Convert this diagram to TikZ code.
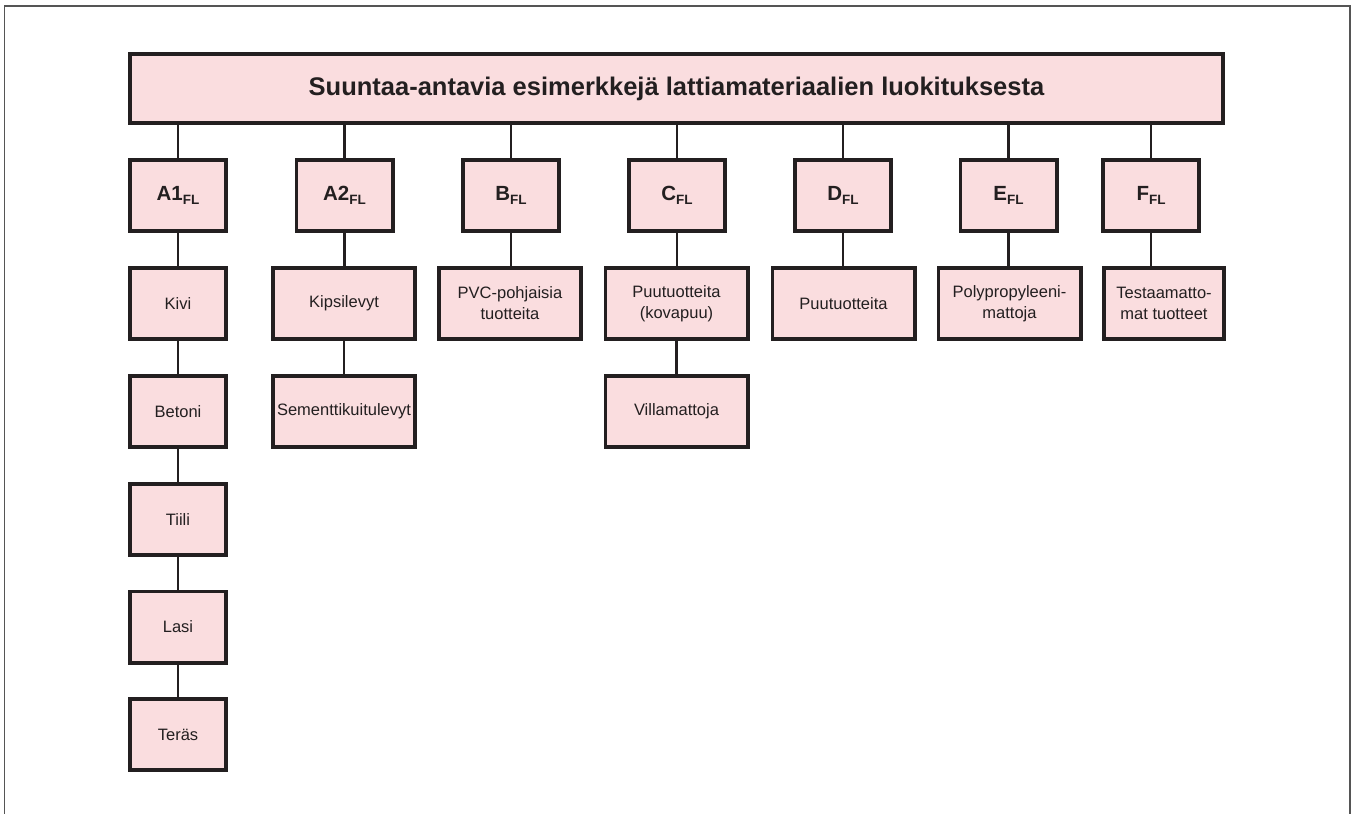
\documentclass[tikz,border=0pt]{standalone}
\usepackage{fontspec}
\setmainfont{Liberation Sans}
\definecolor{boxfill}{RGB}{250,221,223}
\definecolor{ink}{RGB}{35,31,32}
\definecolor{framegray}{RGB}{85,85,85}
\begin{document}
\begin{tikzpicture}[x=1pt,y=-1pt,
  titlebox/.style={draw=ink,fill=boxfill,line width=3.7pt,minimum width=1093.3pt,minimum height=69.3pt,inner sep=0pt,text=ink,font=\fontsize{25.5}{30}\selectfont\bfseries},
  classbox/.style={draw=ink,fill=boxfill,line width=3.7pt,minimum width=96.3pt,minimum height=71.3pt,inner sep=0pt,text=ink,font=\fontsize{20.5}{24}\selectfont\bfseries},
  itembox/.style={draw=ink,fill=boxfill,line width=3.7pt,minimum width=#1,minimum height=71.3pt,inner sep=0pt,align=center,text=ink,font=\fontsize{16.5}{21}\selectfont},
  itembox/.default=142.3pt,
  link/.style={draw=ink,line width=2.4pt}]
\useasboundingbox (0,0) rectangle (1355,814);
% outer frame (no bottom line)
\draw[framegray,line width=1.3pt] (4.3,814) -- (4.3,6) -- (1350,6) -- (1350,814);
\newcommand{\cls}[1]{#1\raisebox{-4.3pt}{\fontsize{13.5}{15}\selectfont FL}}
% title
\node[titlebox] (title) at (676.5,88.5) {Suuntaa-antavia esimerkkejä lattiamateriaalien luokituksesta};
% classes
\node[classbox] (A1) at (178,195.5) {\cls{A1}};
\node[classbox] (A2) at (344.5,195.5) {\cls{A2}};
\node[classbox] (B) at (511,195.5) {\cls{B}};
\node[classbox] (C) at (677,195.5) {\cls{C}};
\node[classbox] (D) at (843,195.5) {\cls{D}};
\node[classbox] (E) at (1008.5,195.5) {\cls{E}};
\node[classbox] (F) at (1151,195.5) {\cls{F}};
% A1 items
\node[itembox=96.3pt] (kivi) at (178,303.5) {Kivi};
\node[itembox=96.3pt] (betoni) at (178,411.5) {Betoni};
\node[itembox=96.3pt] (tiili) at (178,519.5) {Tiili};
\node[itembox=96.3pt] (lasi) at (178,627) {Lasi};
\node[itembox=96.3pt] (teras) at (178,734.5) {Teräs};
% A2 items
\node[itembox] (kipsi) at (344,303.5) {Kipsilevyt};
\node[itembox] (sementti) at (344,411.5) {Sementtikuitulevyt};
% B
\node[itembox] (pvc) at (510,303.5) {PVC-pohjaisia\\tuotteita};
% C
\node[itembox] (puuc) at (676.5,303.5) {Puutuotteita\\(kovapuu)};
\node[itembox] (villa) at (676.5,411.5) {Villamattoja};
% D
\node[itembox] (puud) at (843.5,303.5) {Puutuotteita};
% E
\node[itembox] (poly) at (1009.5,303.5) {Polypropyleeni-\\mattoja};
% F
\node[itembox=120.3pt] (testa) at (1164,303.5) {Testaamatto-\\mat tuotteet};
% connectors
\foreach \c in {A1,A2,B,C,D,E,F} {
  \draw[link] (title.south -| \c.north) -- (\c.north);
}
\draw[link] (A1.south) -- (kivi.north);
\draw[link] (kivi.south) -- (betoni.north);
\draw[link] (betoni.south) -- (tiili.north);
\draw[link] (tiili.south) -- (lasi.north);
\draw[link] (lasi.south) -- (teras.north);
\draw[link] (A2.south) -- (A2.south |- kipsi.north);
\draw[link] (kipsi.south) -- (sementti.north);
\draw[link] (B.south) -- (B.south |- pvc.north);
\draw[link] (C.south) -- (C.south |- puuc.north);
\draw[link] (puuc.south) -- (villa.north);
\draw[link] (D.south) -- (D.south |- puud.north);
\draw[link] (E.south) -- (E.south |- poly.north);
\draw[link] (F.south) -- (F.south |- testa.north);
\end{tikzpicture}
\end{document}
